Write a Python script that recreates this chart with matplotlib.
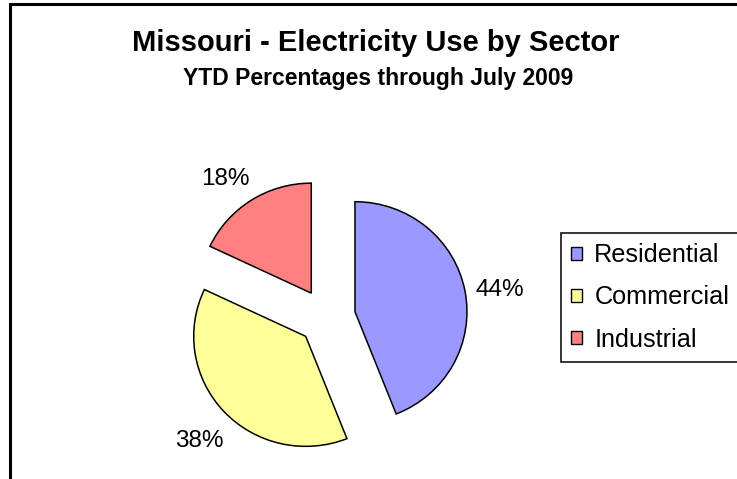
import matplotlib
matplotlib.use("Agg")
import matplotlib.pyplot as plt
from matplotlib.patches import Rectangle
from matplotlib.transforms import offset_copy

plt.rcParams["font.family"] = ["Liberation Sans", "DejaVu Sans"]

# data
sectors = ["Residential", "Commercial", "Industrial"]
shares = [44, 38, 18]
colors = ["#9999FF", "#FFFF99", "#FF8080"]

W, H = 737, 479
fig = plt.figure(figsize=(W / 100, H / 100), dpi=100)
fig.patch.set_facecolor("white")

# outer chart frame (runs off the right/bottom edges like the source)
fig.patches.append(Rectangle((9.5 / W, -0.1), 1.2, 1.1 - 4.5 / H, transform=fig.transFigure,
                             fill=False, edgecolor="black", linewidth=2.2, zorder=0))

# pie axes, sized so one radius is ~112px wide and ~110px tall
cx, cy = 326.7, H - 317.0
ax = fig.add_axes([(cx - 224) / W, (cy - 154) / H, 448 / W, 308 / H])
wedges, texts, autotexts = ax.pie(
    shares, colors=colors, startangle=90, counterclock=False,
    explode=[0.257] * 3, autopct="%1.0f%%", pctdistance=1.31,
    wedgeprops=dict(edgecolor="black", linewidth=1.1),
    textprops=dict(fontsize=17.5, color="black"),
)
# nudge labels to where Excel's best-fit put them (pixels)
nudges = [(1, -5), (1, -6), (-7, -7.5)]
for t, (dx, dy) in zip(autotexts, nudges):
    t.set_transform(offset_copy(ax.transData, fig=fig, x=dx, y=dy, units="dots"))

ax.set_xlim(-2, 2)
ax.set_ylim(-1.4, 1.4)
ax.set_aspect("auto")
ax.axis("off")

fig.text(376 / W, 1 - 43 / H, "Missouri - Electricity Use by Sector",
         ha="center", va="center", fontsize=21, fontweight="bold")
fig.text(378 / W, 1 - 79 / H, "YTD Percentages through July 2009",
         ha="center", va="center", fontsize=16.5, fontweight="bold")

leg = fig.legend(wedges, sectors, loc="upper left", bbox_to_anchor=(561 / W, 1 - 233 / H),
                 bbox_transform=fig.transFigure, borderaxespad=0, fontsize=18.2,
                 fancybox=False, shadow=False, frameon=True, framealpha=1,
                 handlelength=0.42, handleheight=0.42, handletextpad=0.5,
                 labelspacing=0.72, borderpad=0.4)
leg.get_frame().set_edgecolor("black")
leg.get_frame().set_linewidth(1.1)
for h in leg.legend_handles:
    h.set_edgecolor("black")
    h.set_linewidth(1.0)

fig.savefig("out.png", dpi=100)
